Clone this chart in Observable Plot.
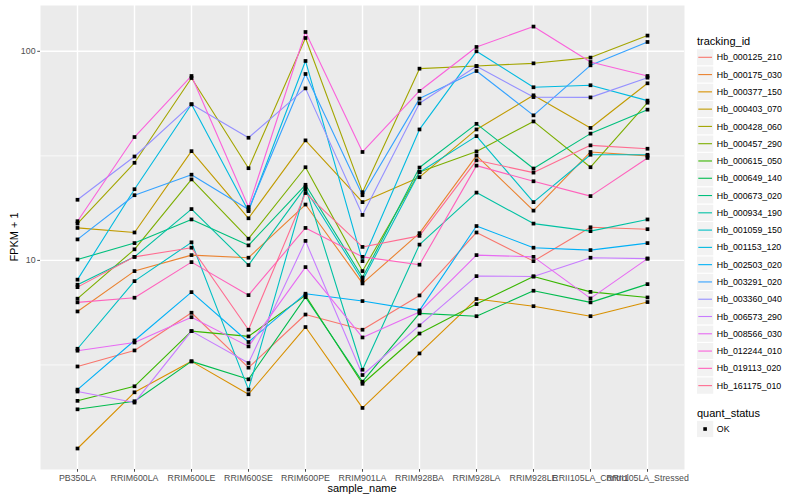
<!DOCTYPE html>
<html><head><meta charset="utf-8">
<script src="https://cdn.jsdelivr.net/npm/d3@7"></script>
<script src="https://cdn.jsdelivr.net/npm/@observablehq/plot@0.6"></script>
<style>body{margin:0;background:#fff;} svg{display:block;}</style>
</head><body><div id="chart"></div>
<script>
const samples = ["PB350LA","RRIM600LA","RRIM600LE","RRIM600SE","RRIM600PE","RRIM901LA","RRIM928BA","RRIM928LA","RRIM928LE","RRII105LA_Control","RRII105LA_Stressed"];
const trackingIds = ["Hb_000125_210","Hb_000175_030","Hb_000377_150","Hb_000403_070","Hb_000428_060","Hb_000457_290","Hb_000615_050","Hb_000649_140","Hb_000673_020","Hb_000934_190","Hb_001059_150","Hb_001153_120","Hb_002503_020","Hb_003291_020","Hb_003360_040","Hb_006573_290","Hb_008566_030","Hb_012244_010","Hb_019113_020","Hb_161175_010"];
const palette = ["#F8766D","#EA8331","#D89000","#C09B00","#A3A500","#7CAE00","#39B600","#00BB4E","#00BF7D","#00C1A3","#00BFC4","#00BAE0","#00B0F6","#35A2FF","#9590FF","#C77CFF","#E76BF3","#FA62DB","#FF62BC","#FF6C91"];
const yTicks = [10, 100];
const yMinor = [3.1623, 31.623];

// FPKM + 1 per sample (order of samples)
const Hb_000125_210 = [3.11, 3.71, 5.62, 3.07, 5.51, 4.66, 6.80, 13.6, 9.92, 14.4, 14.1];
const Hb_000175_030 = [5.70, 8.89, 10.6, 10.3, 18.5, 7.76, 13.5, 31.7, 17.3, 33.0, 31.6];
const Hb_000377_150 = [1.26, 2.34, 3.29, 2.29, 4.80, 1.97, 3.59, 6.54, 6.04, 5.41, 6.32];
const Hb_000403_070 = [14.3, 13.6, 33.3, 15.9, 37.5, 19.0, 25.0, 42.3, 61.6, 43.0, 70.3];
const Hb_000428_060 = [15.0, 29.3, 74.5, 27.6, 115.8, 21.2, 82.6, 85.1, 87.6, 93.3, 118.9];
const Hb_000457_290 = [6.56, 11.3, 24.4, 12.7, 27.9, 8.89, 26.5, 33.2, 46.2, 27.9, 56.8];
const Hb_000615_050 = [2.13, 2.50, 4.59, 4.33, 6.80, 2.57, 4.47, 6.18, 8.38, 7.07, 6.65];
const Hb_000649_140 = [1.94, 2.12, 3.29, 2.70, 6.67, 2.63, 5.58, 5.41, 7.16, 6.30, 7.70];
const Hb_000673_020 = [10.1, 12.1, 15.7, 11.8, 23.0, 8.29, 27.8, 45.0, 27.5, 40.4, 52.6];
const Hb_000934_190 = [7.65, 10.4, 17.6, 9.5, 22.4, 3.0, 11.9, 21.1, 15.0, 13.8, 15.7];
const Hb_001059_150 = [3.78, 7.96, 12.2, 2.41, 21.9, 8.02, 26.4, 39.3, 19.0, 32.0, 32.0];
const Hb_001153_120 = [8.09, 21.9, 55.8, 17.2, 89.9, 9.92, 42.3, 100.0, 67.3, 68.8, 58.1];
const Hb_002503_020 = [2.41, 4.14, 7.05, 4.07, 6.93, 6.39, 5.77, 14.6, 11.5, 11.2, 12.1];
const Hb_003291_020 = [12.6, 20.5, 25.7, 17.5, 77.9, 20.5, 59.4, 80.5, 49.4, 85.7, 110.8];
const Hb_003360_040 = [19.5, 31.4, 55.8, 38.6, 66.5, 16.5, 56.4, 84.8, 60.4, 60.2, 74.8];
const Hb_006573_290 = [2.36, 2.09, 4.59, 3.23, 12.4, 2.83, 4.89, 8.41, 8.38, 10.3, 10.2];
const Hb_008566_030 = [3.70, 4.05, 5.35, 3.88, 9.29, 4.28, 5.67, 10.6, 10.4, 6.58, 10.2];
const Hb_012244_010 = [15.4, 38.9, 76.2, 18.0, 123.7, 33.0, 64.6, 104.9, 131.3, 88.9, 76.2];
const Hb_019113_020 = [6.30, 6.63, 9.81, 6.82, 14.3, 10.4, 9.54, 28.4, 23.9, 20.3, 30.9];
const Hb_161175_010 = [7.45, 10.4, 11.5, 4.66, 21.0, 11.6, 13.1, 30.1, 26.3, 35.5, 34.2];

const seriesValues = [Hb_000125_210, Hb_000175_030, Hb_000377_150, Hb_000403_070, Hb_000428_060, Hb_000457_290, Hb_000615_050, Hb_000649_140, Hb_000673_020, Hb_000934_190, Hb_001059_150, Hb_001153_120, Hb_002503_020, Hb_003291_020, Hb_003360_040, Hb_006573_290, Hb_008566_030, Hb_012244_010, Hb_019113_020, Hb_161175_010];

const rows = [];
trackingIds.forEach((id, i) => seriesValues[i].forEach((v, j) => rows.push({tracking_id: id, sample_name: samples[j], fpkm1: v, quant_status: "OK"})));

const FONT = "'Liberation Sans', Arial, Helvetica, sans-serif";

const plot = Plot.plot({
  width: 800, height: 500,
  marginLeft: 40, marginRight: 116, marginTop: 5, marginBottom: 31,
  style: {fontFamily: FONT, background: "#fff", overflow: "visible"},
  x: {type: "point", domain: samples, padding: 0.6, label: null},
  y: {type: "log", domain: [1.0, 165.6], label: null},
  color: {domain: trackingIds, range: palette},
  marks: [
    Plot.frame({fill: "#EBEBEB", stroke: "none"}),
    Plot.gridY(yMinor, {stroke: "#fff", strokeOpacity: 1, strokeWidth: 0.7}),
    Plot.gridY(yTicks, {stroke: "#fff", strokeOpacity: 1, strokeWidth: 1.4}),
    Plot.gridX(samples, {stroke: "#fff", strokeOpacity: 1, strokeWidth: 1.4}),
    Plot.axisY(yTicks, {tickSize: 2.75, tickPadding: 2.2, fontSize: 8.8, tickFormat: d => String(d), label: null, color: "#4D4D4D"}),
    Plot.axisX(samples, {tickSize: 2.75, tickPadding: 2.2, fontSize: 8.8, label: null, color: "#4D4D4D"}),
    Plot.line(rows, {x: "sample_name", y: "fpkm1", z: "tracking_id", stroke: "tracking_id", strokeWidth: 1.1}),
    Plot.dot(rows, {x: "sample_name", y: "fpkm1", symbol: "square", r: 2.1, fill: "#000", stroke: "none"})
  ]
});
document.getElementById("chart").appendChild(plot);

const svg = d3.select(plot);
svg.append("text").attr("x", 362).attr("y", 492).attr("text-anchor", "middle")
  .attr("font-family", FONT).attr("font-size", 11).attr("fill", "#000").text("sample_name");
svg.append("text").attr("transform", "translate(14,237) rotate(-90)").attr("text-anchor", "middle")
  .attr("dy", "0.35em").attr("font-family", FONT).attr("font-size", 11).attr("fill", "#000").text("FPKM + 1");

// legend: tracking_id
const lg = svg.append("g").attr("font-family", FONT).attr("text-anchor", "start");
lg.append("text").attr("x", 697).attr("y", 44.5).attr("font-size", 11).attr("fill", "#000").text("tracking_id");
trackingIds.forEach((id, i) => {
  const cy = 57.3 + i * 17.28;
  lg.append("rect").attr("x", 696.5).attr("y", cy - 8.64).attr("width", 17.28).attr("height", 17.28)
    .attr("fill", "#F2F2F2").attr("stroke", "#fff").attr("stroke-width", 1);
  lg.append("line").attr("x1", 698.3).attr("x2", 712).attr("y1", cy).attr("y2", cy)
    .attr("stroke", palette[i]).attr("stroke-width", 1.1);
  lg.append("text").attr("x", 716.8).attr("y", cy).attr("dy", "0.35em").attr("font-size", 8.8).attr("fill", "#000").text(id);
});
// legend: quant_status
lg.append("text").attr("x", 697).attr("y", 416.5).attr("font-size", 11).attr("fill", "#000").text("quant_status");
{
  const cy = 429;
  lg.append("rect").attr("x", 696.5).attr("y", cy - 8.64).attr("width", 17.28).attr("height", 17.28)
    .attr("fill", "#F2F2F2").attr("stroke", "#fff").attr("stroke-width", 1);
  lg.append("rect").attr("x", 705.1 - 1.8).attr("y", cy - 1.8).attr("width", 3.6).attr("height", 3.6).attr("fill", "#000");
  lg.append("text").attr("x", 716.8).attr("y", cy).attr("dy", "0.35em").attr("font-size", 8.8).attr("fill", "#000").text("OK");
}
</script>
</body></html>
